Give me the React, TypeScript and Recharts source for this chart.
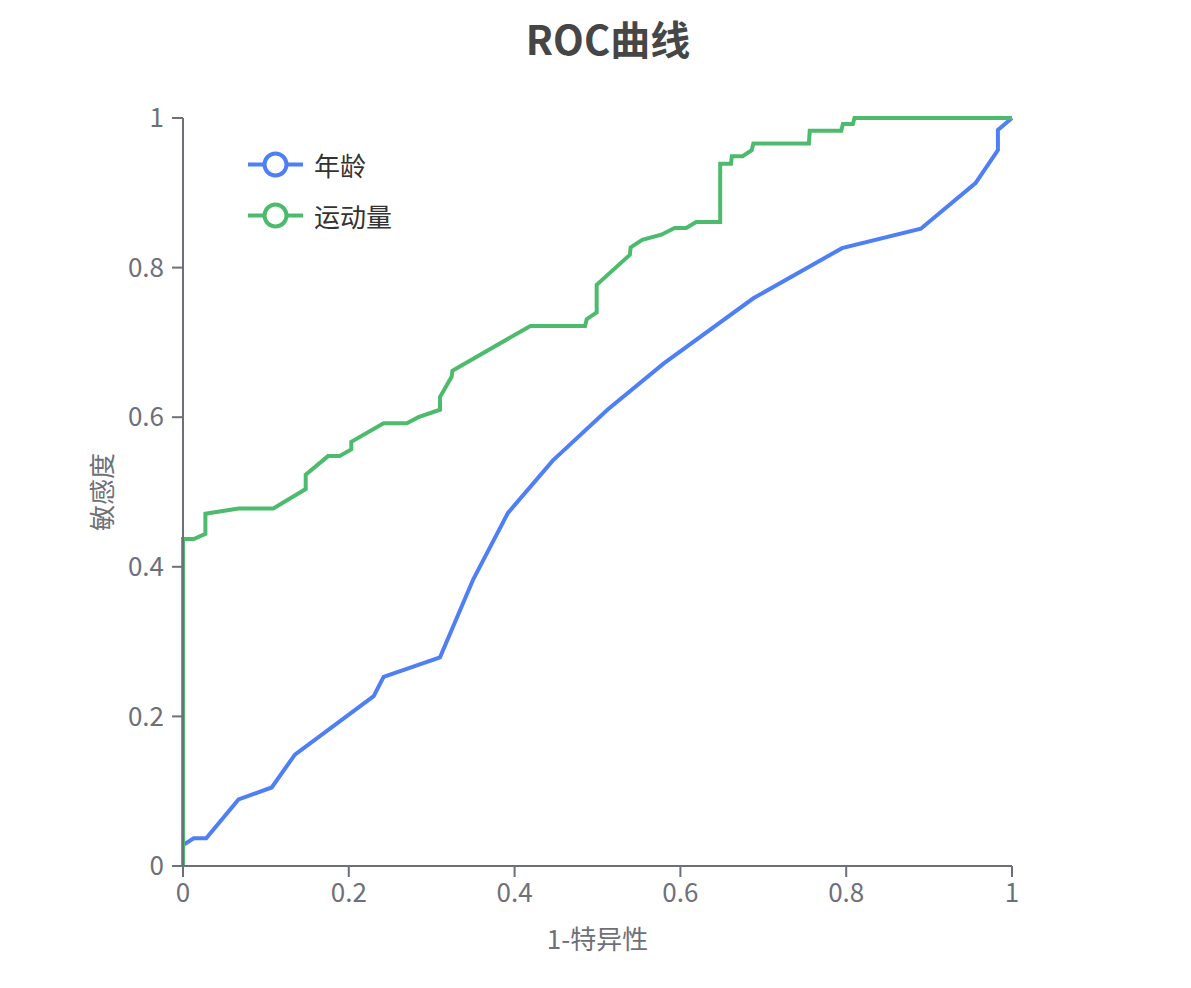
import { LineChart, Line, XAxis, YAxis, Legend, Label } from 'recharts'

const FONT = "'Noto Sans CJK SC', 'Microsoft YaHei', sans-serif"
const AXIS_COLOR = '#6E7079'

const X_TICKS = [0, 0.2, 0.4, 0.6, 0.8, 1]
const Y_TICKS = [0, 0.2, 0.4, 0.6, 0.8, 1]

// 年龄
const AGE_X = [0, 0, 0.013, 0.028, 0.067, 0.107, 0.135, 0.23, 0.242, 0.31, 0.35, 0.392, 0.446, 0.512, 0.58, 0.688, 0.795, 0.89, 0.956, 0.983, 0.983, 1]
const AGE_Y = [0, 0.028, 0.037, 0.037, 0.089, 0.105, 0.149, 0.227, 0.253, 0.279, 0.383, 0.472, 0.542, 0.61, 0.672, 0.759, 0.826, 0.852, 0.913, 0.957, 0.984, 1]

// 运动量
const EX_X = [0, 0, 0.013, 0.027, 0.027, 0.067, 0.109, 0.148, 0.148, 0.175, 0.189, 0.203, 0.203, 0.242, 0.27, 0.284, 0.31, 0.31, 0.324, 0.325, 0.419, 0.485, 0.487, 0.499, 0.499, 0.539, 0.54, 0.554, 0.577, 0.593, 0.607, 0.619, 0.648, 0.648, 0.661, 0.662, 0.675, 0.686, 0.688, 0.755, 0.756, 0.794, 0.796, 0.808, 0.81, 1]
const EX_Y = [0, 0.437, 0.437, 0.444, 0.471, 0.478, 0.478, 0.504, 0.523, 0.548, 0.548, 0.557, 0.567, 0.592, 0.592, 0.6, 0.61, 0.627, 0.654, 0.662, 0.722, 0.722, 0.731, 0.74, 0.777, 0.817, 0.827, 0.837, 0.844, 0.853, 0.853, 0.861, 0.861, 0.939, 0.939, 0.949, 0.949, 0.957, 0.966, 0.966, 0.983, 0.983, 0.992, 0.992, 1, 1]

const SERIES = [
  { name: '年龄', color: '#4e7ff5', xs: AGE_X, ys: AGE_Y },
  { name: '运动量', color: '#4cbb6d', xs: EX_X, ys: EX_Y },
]

const fmt = (v: number) => (v === 0 ? '0' : v === 1 ? '1' : String(v))

function LegendContent({ payload }: any) {
  return (
    <div style={{ fontFamily: FONT }}>
      {(payload ?? []).map((p: any) => (
        <div key={p.value} style={{ display: 'flex', alignItems: 'center', height: 31, marginBottom: 20 }}>
          <svg width={55} height={31}>
            <line x1={0} y1={15.5} x2={55} y2={15.5} stroke={p.color} strokeWidth={4} />
            <circle cx={27.5} cy={15.5} r={11} fill="#fff" stroke={p.color} strokeWidth={4} />
          </svg>
          <span style={{ marginLeft: 11, fontSize: 26, color: '#333', lineHeight: '31px' }}>{p.value}</span>
        </div>
      ))}
    </div>
  )
}

export default function App() {
  return (
    <div style={{ position: 'absolute', left: 0, top: 0, width: 1191, height: 988, background: '#fff', fontFamily: FONT }}>
      <div
        style={{
          position: 'absolute', left: 0, top: 17, width: 1216, textAlign: 'center',
          fontSize: 40, lineHeight: '42px', fontWeight: 700, color: '#464646',
        }}
      >
        ROC曲线
      </div>
      <LineChart width={1191} height={988} margin={{ top: 118, right: 179, bottom: 39, left: 23 }} style={{ fontFamily: FONT }}>
        <XAxis
          type="number"
          dataKey="x"
          domain={[0, 1]}
          ticks={X_TICKS}
          tickFormatter={fmt}
          height={83}
          tickSize={11}
          tickMargin={7}
          stroke={AXIS_COLOR}
          strokeWidth={2}
          tick={{ fill: AXIS_COLOR, fontSize: 26 }}
        >
          <Label value="1-特异性" position="insideBottom" offset={0} fill={AXIS_COLOR} fontSize={26} />
        </XAxis>
        <YAxis
          type="number"
          domain={[0, 1]}
          ticks={Y_TICKS}
          tickFormatter={fmt}
          width={160}
          tickSize={11}
          tickMargin={8}
          stroke={AXIS_COLOR}
          strokeWidth={2}
          tick={{ fill: AXIS_COLOR, fontSize: 26 }}
        >
          <Label value="敏感度" angle={-90} position="center" fill={AXIS_COLOR} fontSize={26} />
        </YAxis>
        <Legend
          layout="vertical"
          align="center"
          verticalAlign="middle"
          wrapperStyle={{ left: 248, top: 149, width: 'auto' }}
          content={LegendContent}
        />
        {SERIES.map(s => (
          <Line
            key={s.name}
            name={s.name}
            data={s.xs.map((x, i) => ({ x, y: s.ys[i] }))}
            dataKey="y"
            type="linear"
            stroke={s.color}
            strokeWidth={4}
            dot={false}
            activeDot={false}
            isAnimationActive={false}
          />
        ))}
      </LineChart>
    </div>
  )
}
